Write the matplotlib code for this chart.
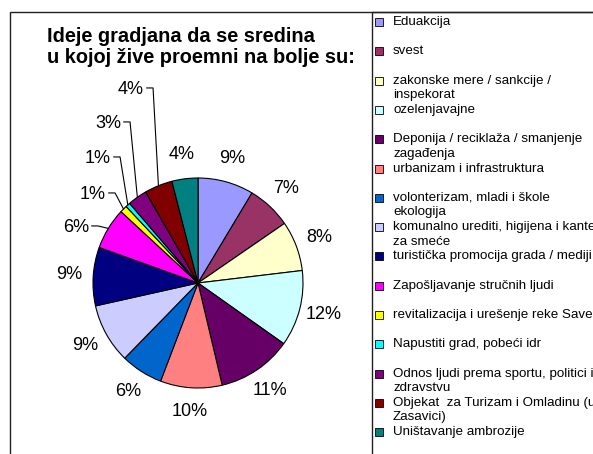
"""
Pie chart: Ideje gradjana da se sredina u kojoj zive promeni na bolje
"""

import numpy as np
import matplotlib
matplotlib.use('Agg')
import matplotlib.pyplot as plt
from matplotlib.patches import Rectangle

plt.rcParams['font.family'] = ['Liberation Sans', 'DejaVu Sans']

# Chart data
categories = [
    'Eduakcija',
    'svest',
    'zakonske mere / sankcije /\ninspekorat',
    'ozelenjavajne',
    'Deponija / reciklaža / smanjenje\nzagađenja',
    'urbanizam i infrastruktura',
    'volonterizam, mladi i škole\nekologija',
    'komunalno urediti, higijena i kante\nza smeće',
    'turistička promocija grada / mediji',
    'Zapošljavanje stručnih ljudi',
    'revitalizacija i urešenje reke Save',
    'Napustiti grad, pobeći idr',
    'Odnos ljudi prema sportu, politici i\nzdravstvu',
    'Objekat  za Turizam i Omladinu (u\nZasavici)',
    'Uništavanje ambrozije',
]
shares = [8.6, 6.8, 7.7, 11.7, 11.5, 9.5, 6.5, 9.2, 9.0, 6.4, 1.1, 0.7, 3.0, 4.3, 4.0]
pct_labels = ['9%', '7%', '8%', '12%', '11%', '10%', '6%', '9%', '9%',
              '6%', '1%', '1%', '3%', '4%', '4%']
colors = ['#9999FF', '#993366', '#FFFFCC', '#CCFFFF', '#660066', '#FF8080',
          '#0066CC', '#CCCCFF', '#000080', '#FF00FF', '#FFFF00', '#00FFFF',
          '#800080', '#800000', '#008080']
title = 'Ideje gradjana da se sredina\nu kojoj žive proemni na bolje su:'

# Layout in pixels (top-left origin)
W, H = 593, 454
CX, CY, R = 198, 283, 105
# labels of the thin slices sit up-left with leader lines
leader_px = {9: (76, 227), 10: (93, 194), 11: (98, 158), 12: (108, 123), 13: (131, 89)}


def fx(x):
    return x / W


def fy(y):
    return 1 - y / H


def main():
    fig = plt.figure(figsize=(W / 100, H / 100), dpi=100)
    ax = fig.add_axes([0, 0, 1, 1])

    wedges, _ = ax.pie(shares, colors=colors, startangle=90, counterclock=False,
                       wedgeprops=dict(edgecolor='black', linewidth=0.8))
    ax.set_xlim(-CX / R, (W - CX) / R)
    ax.set_ylim(-(H - CY) / R, CY / R)
    ax.axis('off')

    # Percentage labels
    for i, w in enumerate(wedges):
        mid = np.deg2rad((w.theta1 + w.theta2) / 2)
        ex, ey = np.cos(mid), np.sin(mid)
        if i in leader_px:
            px, py = leader_px[i]
            tx, ty = (px - CX) / R, (CY - py) / R
            ax.text(tx, ty, pct_labels[i], ha='center', va='center', fontsize=13)
            ax.plot([tx + 0.15, tx + 0.21, ex], [ty + 0.01, ty + 0.01, ey],
                    color='black', lw=0.8)
        else:
            ax.text(1.23 * ex, 1.23 * ey, pct_labels[i], ha='center', va='center',
                    fontsize=13)

    # Title
    fig.text(fx(47), fy(27), title, fontsize=14.4, fontweight='bold',
             ha='left', va='top', linespacing=1.15)

    # Outer frame and legend box
    fig.add_artist(Rectangle((fx(10), fy(470)), fx(600), 458 / H, fill=False,
                             edgecolor='#202020', lw=1.0, transform=fig.transFigure))
    fig.add_artist(Rectangle((fx(372), fy(470)), fx(240), 458 / H, fill=False,
                             edgecolor='#202020', lw=1.0, transform=fig.transFigure))

    # Legend entries
    for i, (name, col) in enumerate(zip(categories, colors)):
        cy = 22 + i * 29.3
        fig.add_artist(Rectangle((fx(375), fy(cy + 4)), 8 / W, 8 / H, facecolor=col,
                                 edgecolor='black', lw=0.6, transform=fig.transFigure))
        for k, line in enumerate(name.split('\n')):
            fig.text(fx(393), fy(cy + k * 14.5), line, fontsize=9.6,
                     ha='left', va='center')

    fig.savefig('out.png', dpi=100)


if __name__ == '__main__':
    main()
